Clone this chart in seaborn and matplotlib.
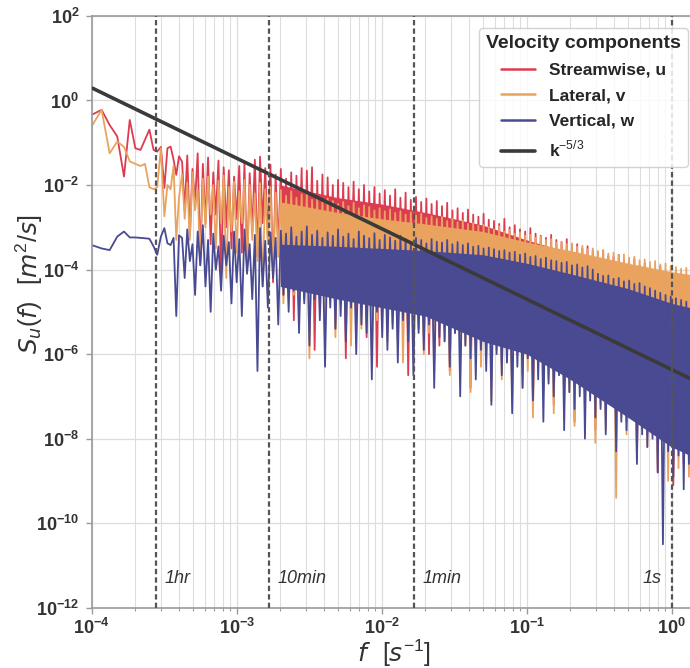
import numpy as np
import pandas as pd
import matplotlib
matplotlib.use("Agg")
import matplotlib.pyplot as plt
from matplotlib.lines import Line2D
from matplotlib.ticker import FixedLocator, NullLocator, LogLocator, FuncFormatter
import seaborn as sns

# ---------------------------------------------------------------------------
# Power spectral density of the three velocity components, log10 S(f) [m^2/s]
# ---------------------------------------------------------------------------
components = ["Streamwise, u", "Lateral, v", "Vertical, w"]
colors = ["#dc3c50", "#eaa35e", "#4a4a92"]

# lowest FFT bins (resolved individually)
freq_low = [1.00e-4, 1.17e-4, 1.33e-4, 1.50e-4, 1.67e-4, 1.83e-4, 2.00e-4,
            2.17e-4, 2.33e-4, 2.50e-4, 2.67e-4, 2.83e-4, 3.00e-4, 3.17e-4,
            3.33e-4, 3.50e-4, 3.67e-4, 3.83e-4, 4.00e-4]
u_low = [-0.34, -0.22, -0.58, -0.85, -1.80, -0.46, -1.13, -1.17, -0.93, -0.69,
         -1.17, -1.21, -1.10, -2.07, -1.13, -1.09, -1.40, -1.76, -1.32]
v_low = [-0.61, -0.22, -1.25, -0.97, -1.10, -1.44, -1.50, -1.55, -1.50, -2.05,
         -2.10, -2.05, -1.13, -2.74, -2.00, -2.10, -1.55, -3.30, -2.30]
w_low = [-3.42, -3.50, -3.54, -3.22, -3.10, -3.24, -3.24, -3.25, -3.26, -3.27,
         -3.45, -3.65, -3.22, -3.02, -3.38, -3.42, -3.25, -5.10, -3.19]

# higher frequencies: successive local maxima / minima of the noisy band
freq_band = np.geomspace(4.2e-4, 1.55, 200)

u_peaks = [-1.45, -1.30, -1.62, -1.25, -1.50, -1.35, -1.70, -1.42, -1.58, -1.65,
           -1.80, -1.55, -1.48, -1.72, -1.40, -1.33, -1.60, -1.52, -1.75, -1.62,
           -1.85, -1.70, -1.78, -1.60, -1.66, -1.58, -1.90, -1.75, -1.82, -2.00,
           -1.88, -1.95, -2.05, -1.92, -2.10, -2.00, -2.15, -2.05, -2.20, -2.12,
           -2.25, -2.10, -2.30, -2.18, -2.35, -2.28, -2.40, -2.32, -2.45, -2.38,
           -2.50, -2.42, -2.60, -2.55, -2.66, -2.58, -2.70, -2.75, -2.68, -2.82,
           -2.85, -2.92, -2.80, -3.00, -2.95, -3.05, -3.10, -3.02, -3.15, -3.20,
           -3.25, -3.18, -3.30, -3.35, -3.28, -3.42, -3.40, -3.50, -3.45, -3.55,
           -3.60, -3.55, -3.68, -3.70, -3.65, -3.78, -3.82, -3.75, -3.90, -3.85,
           -3.95, -4.00, -3.92, -4.05, -4.10, -4.02, -4.15, -4.20, -4.12, -4.25]
u_troughs = [-2.6, -3.2, -2.4, -3.8, -2.9, -3.4, -2.7, -4.1, -3.0, -3.5,
             -2.8, -3.6, -4.0, -3.1, -3.7, -2.9, -3.3, -4.3, -3.5, -4.6,
             -3.9, -5.2, -4.1, -4.7, -3.8, -5.9, -4.4, -4.9, -4.2, -5.4,
             -4.6, -6.1, -4.3, -5.0, -4.8, -5.6, -4.5, -6.3, -4.9, -5.2,
             -5.0, -5.7, -4.7, -6.5, -5.1, -5.4, -4.9, -6.0, -5.3, -5.8,
             -5.2, -6.4, -5.5, -5.9, -5.3, -6.8, -5.6, -6.1, -5.4, -6.6,
             -5.8, -6.2, -5.7, -7.0, -5.9, -6.5, -6.1, -7.3, -6.0, -6.7,
             -6.3, -7.2, -6.2, -6.8, -6.6, -7.6, -6.4, -7.0, -6.9, -7.8,
             -6.8, -7.4, -7.0, -8.1, -7.2, -7.6, -7.1, -8.5, -7.3, -7.9,
             -7.5, -8.8, -7.7, -8.3, -9.1, -7.9, -8.6, -8.0, -8.4, -8.2]

v_peaks = [-1.75, -1.95, -1.70, -2.10, -1.85, -1.80, -2.00, -1.90, -1.78, -2.05,
           -1.92, -2.15, -1.88, -2.00, -2.20, -1.95, -2.10, -2.05, -2.18, -2.12,
           -2.25, -2.15, -2.30, -2.22, -2.18, -2.35, -2.28, -2.40, -2.32, -2.38,
           -2.45, -2.40, -2.50, -2.42, -2.55, -2.48, -2.52, -2.60, -2.55, -2.62,
           -2.58, -2.66, -2.62, -2.70, -2.65, -2.72, -2.68, -2.78, -2.74, -2.80,
           -2.76, -2.85, -2.80, -2.88, -2.84, -2.92, -2.90, -2.96, -2.94, -3.00,
           -3.05, -2.98, -3.10, -3.06, -3.15, -3.12, -3.20, -3.18, -3.25, -3.22,
           -3.30, -3.28, -3.36, -3.34, -3.40, -3.38, -3.46, -3.44, -3.52, -3.50,
           -3.56, -3.54, -3.62, -3.60, -3.66, -3.64, -3.72, -3.70, -3.78, -3.76,
           -3.82, -3.80, -3.88, -3.86, -3.92, -3.94, -3.98, -3.96, -4.02, -4.00]
v_troughs = [-2.8, -3.3, -2.6, -3.9, -3.0, -2.7, -3.5, -2.9, -4.2, -3.1,
             -3.6, -2.9, -4.0, -3.3, -3.8, -4.4, -3.4, -4.1, -3.7, -4.8,
             -4.2, -4.6, -5.0, -4.1, -6.1, -4.5, -4.9, -5.3, -4.4, -5.6,
             -4.8, -5.1, -5.8, -4.7, -5.4, -5.0, -6.0, -5.2, -4.9, -5.7,
             -5.3, -5.0, -6.2, -5.4, -5.6, -5.1, -6.0, -5.5, -6.4, -5.3,
             -5.7, -6.5, -5.4, -6.0, -5.8, -6.9, -5.6, -6.3, -6.1, -7.1,
             -5.9, -6.6, -6.2, -7.2, -6.0, -6.8, -6.4, -7.5, -6.3, -6.9,
             -6.6, -7.4, -6.5, -7.1, -6.9, -7.7, -6.8, -7.3, -7.0, -8.1,
             -7.2, -7.8, -7.1, -9.4, -7.5, -7.9, -7.4, -8.4, -7.6, -8.2,
             -7.9, -8.6, -8.0, -9.0, -8.3, -8.7, -8.1, -8.9, -8.5, -8.8]

w_peaks = [-3.25, -3.05, -3.40, -3.10, -2.95, -3.30, -3.15, -3.45, -3.20, -3.35,
           -3.10, -3.28, -3.05, -3.40, -3.18, -3.02, -3.32, -3.12, -3.25, -3.08,
           -3.15, -3.00, -3.22, -3.10, -2.98, -3.18, -3.08, -3.25, -3.12, -3.20,
           -3.05, -3.22, -3.15, -3.28, -3.10, -3.20, -3.26, -3.14, -3.30, -3.18,
           -3.24, -3.32, -3.20, -3.28, -3.35, -3.25, -3.30, -3.38, -3.28, -3.34,
           -3.36, -3.30, -3.40, -3.35, -3.42, -3.38, -3.46, -3.44, -3.50, -3.48,
           -3.52, -3.56, -3.54, -3.60, -3.58, -3.65, -3.62, -3.70, -3.68, -3.75,
           -3.72, -3.78, -3.80, -3.84, -3.82, -3.90, -3.88, -3.95, -3.92, -4.00,
           -4.10, -4.15, -4.14, -4.22, -4.20, -4.28, -4.26, -4.34, -4.32, -4.40,
           -4.44, -4.50, -4.55, -4.60, -4.64, -4.68, -4.72, -4.76, -4.80, -4.84]
w_troughs = [-4.2, -3.8, -4.6, -3.9, -4.4, -5.0, -4.0, -4.5, -3.9, -4.8,
             -4.3, -5.1, -4.1, -4.7, -6.4, -4.4, -4.9, -4.2, -5.3, -4.6,
             -5.0, -4.5, -5.5, -4.8, -5.8, -4.7, -5.2, -6.3, -4.9, -5.4,
             -5.1, -5.7, -4.9, -6.0, -5.3, -5.5, -6.6, -5.0, -5.6, -5.9,
             -5.4, -6.2, -5.2, -5.7, -6.5, -5.5, -5.9, -5.3, -6.8, -5.6,
             -5.7, -6.3, -5.5, -7.0, -5.8, -6.1, -6.6, -5.9, -6.4, -7.2,
             -6.0, -6.5, -6.2, -7.4, -6.3, -6.8, -6.1, -7.1, -6.6, -7.6,
             -6.7, -7.0, -6.5, -7.8, -6.9, -7.3, -7.0, -8.0, -7.1, -7.5,
             -7.3, -7.9, -7.2, -8.3, -7.6, -7.8, -7.5, -8.6, -7.9, -8.2,
             -8.0, -8.8, -10.5, -8.3, -8.9, -8.4, -9.2, -8.6, -9.0, -8.7]

# densely packed core of each band (upper / lower edge, log10 S)
freq_core = [2e-3, 5e-3, 1e-2, 2e-2, 5e-2, 1e-1, 2e-1, 5e-1, 1.0, 1.55]
u_core_hi = [-2.00, -2.30, -2.45, -2.65, -2.95, -3.30, -3.60, -4.00, -4.30, -4.40]
u_core_lo = [-4.30, -4.60, -4.80, -5.00, -5.50, -5.90, -6.40, -7.20, -7.90, -8.30]
v_core_hi = [-2.40, -2.65, -2.80, -2.92, -3.10, -3.35, -3.55, -3.85, -4.05, -4.15]
v_core_lo = [-4.30, -4.60, -4.80, -5.00, -5.50, -5.90, -6.40, -7.20, -7.90, -8.30]
w_core_hi = [-3.40, -3.45, -3.50, -3.55, -3.65, -3.85, -4.10, -4.45, -4.80, -4.95]
w_core_lo = [-4.40, -4.70, -4.90, -5.10, -5.70, -6.00, -6.60, -7.50, -8.20, -8.50]

# Kolmogorov inertial-range reference, S = A f^(-5/3)
kolmogorov_amp = 4.3e-7
kolmogorov_exp = -5.0 / 3.0
kolmogorov_f = [1e-4, 1.6]

# characteristic time scales [s]
periods = [3600, 600, 60, 1]
period_labels = ["1hr", "10min", "1min", "1s"]


def band_trace(peaks, troughs):
    """Interleave maxima and minima into one trace."""
    return np.column_stack([peaks, troughs]).ravel()


series = []
for name, low, pk, tr, chi, clo in zip(
        components,
        [u_low, v_low, w_low],
        [u_peaks, v_peaks, w_peaks],
        [u_troughs, v_troughs, w_troughs],
        [u_core_hi, v_core_hi, w_core_hi],
        [u_core_lo, v_core_lo, w_core_lo]):
    f = np.concatenate([freq_low, freq_band])
    s = 10.0 ** np.concatenate([low, band_trace(pk, tr)])
    series.append((name, pd.DataFrame({"f": f, "S": s}),
                   10.0 ** np.array(chi), 10.0 ** np.array(clo)))

# ---------------------------------------------------------------------------
sns.set_theme(style="whitegrid")
plt.rcParams["font.family"] = ["Liberation Sans", "DejaVu Sans"]
plt.rcParams["mathtext.fontset"] = "custom"
plt.rcParams["mathtext.rm"] = "Liberation Sans"
plt.rcParams["mathtext.it"] = "DejaVu Sans:italic"
plt.rcParams["mathtext.bf"] = "Liberation Sans:bold"

fig = plt.figure(figsize=(6.9, 6.68), dpi=100)
ax = fig.add_axes([0.1329, 0.0903, 0.8816, 0.8858])

for (name, d, core_hi, core_lo), c in zip(series, colors):
    ax.fill_between(freq_core, core_lo, core_hi, color=c, lw=0, zorder=2)
    sns.lineplot(data=d, x="f", y="S", color=c, estimator=None, sort=False,
                 lw=1.3, ax=ax, zorder=2)

ax.set_xscale("log")
ax.set_yscale("log")
ax.set_xlim(1e-4, 1.567)
ax.set_ylim(1e-12, 1e2)

kf = np.array(kolmogorov_f)
ax.plot(kf, kolmogorov_amp * kf ** kolmogorov_exp, color="#3a3a3a", lw=2.6,
        zorder=4, solid_capstyle="butt")

text_factor = [1.15, 1.15, 1.15, 0.63]
for p, lab, fac in zip(periods, period_labels, text_factor):
    fc = 1.0 / p
    ax.axvline(fc, color="#555555", lw=1.6, dashes=(2.4, 1.4), zorder=5)
    ax.text(fc * fac, 5e-12, lab, fontsize=13, fontstyle="italic",
            color="#333333", va="center", ha="left", zorder=6)

# axes / ticks
ax.xaxis.set_major_locator(FixedLocator([1e-4, 1e-3, 1e-2, 1e-1, 1e0]))
ax.xaxis.set_minor_locator(LogLocator(base=10, subs=np.arange(2, 10), numticks=100))
ax.yaxis.set_major_locator(FixedLocator(10.0 ** np.arange(-12, 3, 2)))
ax.yaxis.set_minor_locator(NullLocator())
fmt = FuncFormatter(lambda v, _: r"$\mathbf{10^{%d}}$" % int(round(np.log10(v))))
ax.xaxis.set_major_formatter(fmt)
ax.yaxis.set_major_formatter(fmt)
ax.xaxis.set_minor_formatter(FuncFormatter(lambda v, _: ""))

ax.grid(which="major", axis="both", color="#dddddd", lw=0.9)
ax.grid(which="minor", axis="x", color="#dddddd", lw=0.8)
ax.set_axisbelow(True)
for sp in ax.spines.values():
    sp.set_color("#9a9a9a")
    sp.set_linewidth(1.2)
ax.tick_params(which="both", bottom=True, left=True, color="#9a9a9a",
               labelcolor="#333333", labelsize=13, direction="out")
ax.tick_params(which="major", length=4, width=1.0)
ax.tick_params(axis="y", which="major", pad=5)
ax.tick_params(which="minor", length=2.5, width=0.8)

ax.set_xlabel(r"$f\ \ [s^{-1}]$", fontsize=18, color="#333333", va="center")
ax.xaxis.set_label_coords(0.497, -0.077)
ax.set_ylabel(r"$S_u(f)\ \ [m^2/s]$", fontsize=18, color="#333333", va="center")
ax.yaxis.set_label_coords(-0.103, 0.5456)

handles = [Line2D([], [], color=c, lw=1.8) for c in colors]
handles.append(Line2D([], [], color="#3a3a3a", lw=2.6))
labels = components + [r"k$^{-5/3}$"]
leg = ax.legend(handles, labels, title="Velocity components", loc="upper right",
                prop={"weight": "bold", "size": 12.5},
                title_fontproperties={"weight": "bold", "size": 14},
                framealpha=0.85, edgecolor="#cccccc", labelspacing=0.6,
                borderaxespad=0.7, fancybox=True)
leg.set_zorder(10)

fig.savefig("out.png", dpi=100)
